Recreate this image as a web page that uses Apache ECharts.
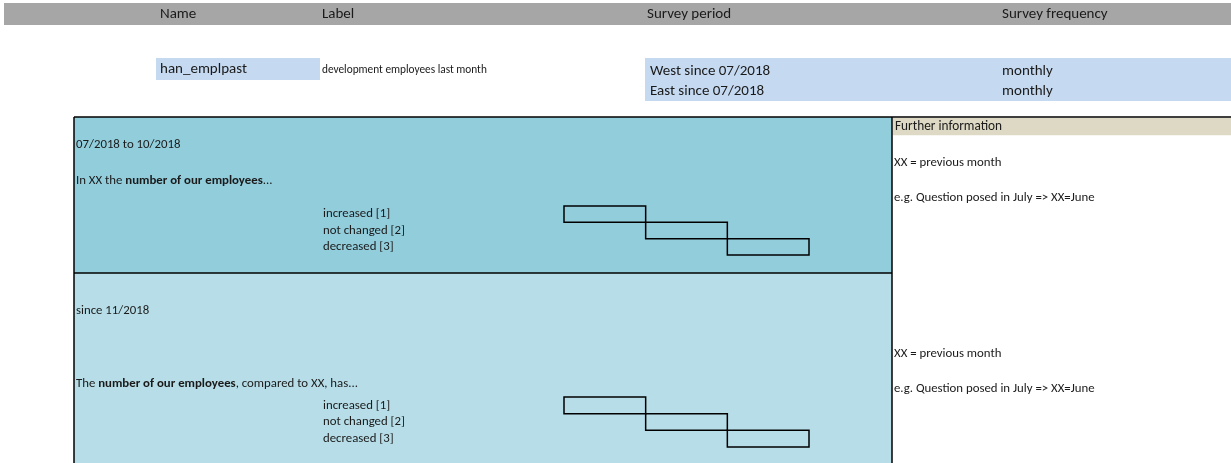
<!DOCTYPE html>
<html><head><meta charset="utf-8">
<script src="https://cdn.jsdelivr.net/npm/echarts@6/dist/echarts.min.js"></script>
<style>html,body{margin:0;padding:0;background:#fff}#c{width:1231px;height:463px}</style>
</head><body><div id="c"></div>
<script>
// ---- content ----
const headers = ['Name', 'Label', 'Survey period', 'Survey frequency'];
const varName = 'han_emplpast';
const varLabel = 'development employees last month';
const periods = ['West since 07/2018', 'East since 07/2018'];
const frequencies = ['monthly', 'monthly'];
const answerOptions = ['increased [1]', 'not changed [2]', 'decreased [3]'];
const answerCodes = [1, 2, 3];
const blockPeriods = ['07/2018 to 10/2018', 'since 11/2018'];
const questionTexts = [
  'In XX the {b|number of our employees}...',
  'The {b|number of our employees}, compared to XX, has...'
];
const furtherInfoTitle = 'Further information';
const furtherInfo = ['XX = previous month', 'e.g. Question posed in July => XX=June'];

const FONT = 'Carlito, Calibri, Lato, sans-serif';
const TXT = '#1a1a1a';
const BIG = 15;
const MID = 12.8;

const chart = echarts.init(document.getElementById('c'), null, {renderer: 'canvas'});

function txt(x, y, text, size, extra) {
  return Object.assign({
    type: 'text', x: x, y: y, z: 5,
    style: {text: text, fill: TXT, font: size + 'px ' + FONT, textVerticalAlign: 'middle', verticalAlign: 'middle'}
  }, extra || {});
}
function rect(x, y, w, h, fill, z) {
  return {type: 'rect', z: z || 0, shape: {x: x, y: y, width: w, height: h}, style: {fill: fill}};
}
function line(x1, y1, x2, y2) {
  return {type: 'line', z: 4, shape: {x1: x1, y1: y1, x2: x2, y2: y2}, style: {stroke: '#000', lineWidth: 1.5}};
}

const headerX = [160, 322, 647, 1002];
const g = [];
// header bar
g.push(rect(4, 3, 1227, 22, '#a6a6a6'));
headers.forEach((h, i) => g.push(txt(headerX[i], 14, h, BIG)));
// variable row
g.push(rect(156, 58, 164, 22, '#c5d9f1'));
g.push(txt(160, 69, varName, BIG));
g.push(txt(322, 70, varLabel, 11.3));
g.push(rect(645, 58, 586, 43, '#c5d9f1'));
periods.forEach((p, i) => g.push(txt(650, 71 + i * 20, p, BIG)));
frequencies.forEach((f, i) => g.push(txt(1002, 71 + i * 20, f, BIG)));
// question blocks
g.push(rect(74, 117, 818, 156, '#92cddc'));
g.push(rect(74, 273, 818, 200, '#b7dee8'));
g.push(line(74, 117, 1231, 117));
g.push(line(74, 117, 74, 470));
g.push(line(74, 273, 892, 273));
g.push(line(892, 117, 892, 470));
// further info header
g.push(rect(892.75, 117.75, 340, 17.5, '#ddd9c4'));
g.push(txt(895, 127, furtherInfoTitle, 13.3));
const infoY = [[163, 198], [354, 389]];
infoY.forEach(ys => furtherInfo.forEach((t, i) => g.push(txt(894, ys[i], t, MID))));
// block texts
const periodY = [145, 311];
const qY = [181, 384];
blockPeriods.forEach((p, i) => g.push(txt(76, periodY[i], p, MID)));
questionTexts.forEach((q, i) => g.push({
  type: 'text', x: 76, y: qY[i], z: 5,
  style: {text: q, fill: TXT, font: MID + 'px ' + FONT, verticalAlign: 'middle', textVerticalAlign: 'middle',
    rich: {b: {fontWeight: 'bold', fontSize: MID, fontFamily: FONT, fill: TXT, color: TXT}}}
}));

const grids = [
  {left: 564, top: 206, width: 245, height: 49},
  {left: 564, top: 397, width: 245, height: 50}
];
const boxData = answerCodes.map((c, i) => [c - 1, c, i]);

function renderBox(params, api) {
  const p0 = api.coord([api.value(0), api.value(2)]);
  const p1 = api.coord([api.value(1), api.value(2)]);
  const h = api.size([0, 1])[1];
  return {type: 'rect', shape: {x: p0[0], y: p0[1] - h / 2, width: p1[0] - p0[0], height: h},
    style: {fill: 'none', stroke: '#000', lineWidth: 1.5}};
}

chart.setOption({
  animation: false,
  backgroundColor: '#fff',
  graphic: {elements: g},
  grid: grids,
  xAxis: grids.map((_, i) => ({type: 'value', gridIndex: i, min: 0, max: 3, show: false, splitLine: {show: false}})),
  yAxis: grids.map((_, i) => ({
    type: 'category', gridIndex: i, data: answerOptions, inverse: true,
    axisLine: {show: false}, axisTick: {show: false}, splitLine: {show: false},
    axisLabel: {align: 'left', margin: 241, interval: 0, hideOverlap: false, fontSize: MID, fontFamily: FONT, color: TXT}
  })),
  series: grids.map((_, i) => ({
    type: 'custom', xAxisIndex: i, yAxisIndex: i, z: 6,
    renderItem: renderBox, encode: {x: [0, 1], y: 2}, data: boxData
  }))
});
</script>
</body></html>
